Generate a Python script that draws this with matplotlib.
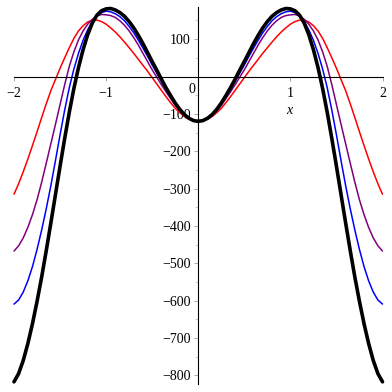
import matplotlib
matplotlib.use('Agg')
import matplotlib.pyplot as plt
import numpy as np

# values for x >= 0; all four curves are even in x,
# so the left half is the mirror image of these samples
x_half = [0.0, 0.05, 0.1, 0.15, 0.2, 0.25, 0.3, 0.35, 0.4, 0.45, 0.5,
          0.55, 0.6, 0.65, 0.7, 0.75, 0.8, 0.85, 0.9, 0.95, 1.0,
          1.05, 1.1, 1.15, 1.2, 1.25, 1.3, 1.35, 1.4, 1.45, 1.5,
          1.55, 1.6, 1.65, 1.7, 1.75, 1.8, 1.85, 1.9, 1.95, 2.0]
red_half = [-120, -118, -114, -107, -97, -85, -70, -54, -37, -20, -3,
            14, 30, 46, 62, 77, 92, 106, 119, 130, 140,
            147, 151, 151, 146, 136, 122, 102, 77, 50, 22,
            -8, -38, -73, -110, -148, -185, -221, -255, -287, -315]
purple_half = [-120, -118, -113, -104, -92, -77, -59, -41, -22, -2, 18,
               40, 62, 84, 104, 122, 137, 149, 158, 163, 165,
               166, 162, 153, 140, 122, 98, 66, 27, -22, -75,
               -128, -180, -232, -283, -330, -370, -404, -432, -453, -467]
blue_half = [-120, -118, -113, -103, -90, -74, -55, -35, -13, 9, 31,
             54, 76, 97, 117, 134, 149, 160, 168, 173, 175,
             171, 162, 147, 125, 97, 62, 20, -30, -90, -156,
             -225, -292, -354, -411, -463, -509, -547, -577, -598, -609]
black_half = [-120, -118, -112, -102, -88, -71, -51, -30, -7, 17, 40,
              64, 88, 110, 130, 147, 161, 171, 178, 182, 181,
              176, 164, 143, 112, 72, 24, -32, -96, -166, -240,
              -316, -392, -466, -537, -602, -662, -715, -760, -795, -817]

x_ticks = [-2, -1, 1, 2]
y_ticks = [100, -100, -200, -300, -400, -500, -600, -700, -800]


def mirror(xs, ys):
    xs = np.asarray(xs, dtype=float)
    ys = np.asarray(ys, dtype=float)
    return np.concatenate([-xs[:0:-1], xs]), np.concatenate([ys[:0:-1], ys])


plt.rcParams['font.family'] = ['Liberation Serif', 'DejaVu Serif']

fig = plt.figure(figsize=(3.92, 3.92), dpi=100)
ax = fig.add_axes([14 / 392, 1 - 383.7 / 392, (382.5 - 14) / 392, (383.7 - 7) / 392])

for ys, colour, lw in [(red_half, 'red', 1.1), (purple_half, '#800080', 1.1),
                       (blue_half, 'blue', 1.1), (black_half, 'black', 2.6)]:
    xs_full, ys_full = mirror(x_half, ys)
    ax.plot(xs_full, ys_full, color=colour, lw=lw, solid_capstyle='round',
            solid_joinstyle='round', clip_on=False)

ax.set_xlim(-2, 2)
ax.set_ylim(-822, 186)

for side in ['top', 'right']:
    ax.spines[side].set_visible(False)
ax.spines['left'].set_position(('data', 0))
ax.spines['bottom'].set_position(('data', 0))
for side in ['left', 'bottom']:
    ax.spines[side].set_linewidth(0.8)

ax.set_xticks(x_ticks)
ax.set_xticklabels([str(v).replace('-', '\u2212') for v in x_ticks])
ax.set_yticks(y_ticks)
ax.set_yticklabels([str(v).replace('-', '\u2212') for v in y_ticks])
ax.set_yticks(np.arange(-800, 151, 50), minor=True)
ax.tick_params(axis='both', which='major', labelsize=10, length=3, width=0.6, color='#999999')
ax.tick_params(axis='x', which='major', pad=4.5)
ax.tick_params(axis='y', which='major', pad=2.5)
ax.tick_params(axis='y', which='minor', length=2, width=0.5, color='#bbbbbb')

ax.text(-0.07, -36, '0', fontsize=10, ha='center', va='center')
ax.text(0.99, -90, 'x', fontsize=10, style='italic', ha='center', va='center')

fig.savefig('out.png', dpi=100)
